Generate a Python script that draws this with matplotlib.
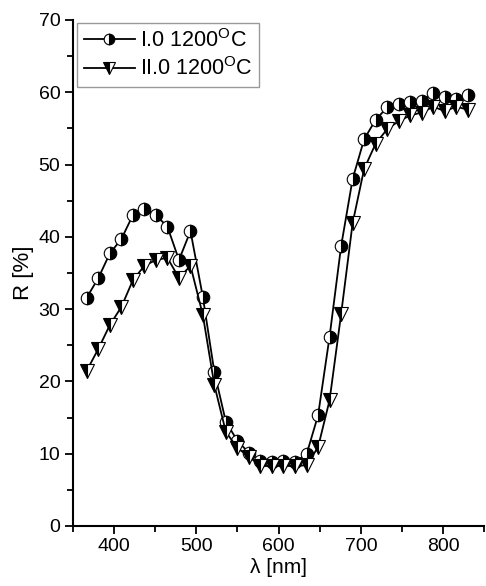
import matplotlib.pyplot as plt
from matplotlib.ticker import MultipleLocator

plt.rcParams['font.family'] = ['Liberation Sans', 'DejaVu Sans']
plt.rcParams['mathtext.fontset'] = 'custom'
plt.rcParams['mathtext.rm'] = 'Liberation Sans'

wavelength = [367, 381, 395, 409, 423, 437, 451, 465, 479, 493, 508, 522,
              536, 550, 564, 578, 592, 606, 620, 634, 648, 662, 676, 690,
              704, 718, 732, 746, 760, 774, 788, 802, 816, 830]
r_I = [31.6, 34.3, 37.7, 39.7, 43.0, 43.8, 43.0, 41.4, 36.8, 40.8, 31.7, 21.3,
       14.4, 11.8, 10.1, 9.0, 8.9, 9.0, 8.9, 9.9, 15.3, 26.2, 38.7, 48.0,
       53.5, 56.2, 57.9, 58.4, 58.7, 58.8, 59.9, 59.4, 59.1, 59.6]
r_II = [21.5, 24.5, 27.8, 30.3, 34.0, 36.0, 36.8, 37.1, 34.3, 36.0, 29.2, 19.5,
        13.0, 10.8, 9.6, 8.3, 8.3, 8.3, 8.3, 8.4, 10.9, 17.4, 29.3, 41.9,
        49.4, 52.9, 54.9, 56.0, 56.8, 57.2, 58.0, 57.4, 58.0, 57.6]
labels = ['I.0 1200$^{\\mathrm{O}}$C', 'II.0 1200$^{\\mathrm{O}}$C']

fig = plt.figure(figsize=(4.86, 5.86), dpi=100)
ax = fig.add_axes([0.1498, 0.1024, 0.8467, 0.8635])

ax.plot(wavelength, r_I, color='black', lw=1.3, marker='o', markersize=9,
        fillstyle='right', markerfacecolor='black', markerfacecoloralt='white',
        markeredgecolor='black', markeredgewidth=0.8, label=labels[0])
ax.plot(wavelength, r_II, color='black', lw=1.3, marker='v', markersize=9.5,
        fillstyle='left', markerfacecolor='black', markerfacecoloralt='white',
        markeredgecolor='black', markeredgewidth=0.8, label=labels[1])

ax.set_xlim(350, 850)
ax.set_ylim(0, 70)
ax.xaxis.set_major_locator(MultipleLocator(100))
ax.xaxis.set_minor_locator(MultipleLocator(50))
ax.yaxis.set_major_locator(MultipleLocator(10))
ax.yaxis.set_minor_locator(MultipleLocator(5))
ax.tick_params(which='major', direction='out', length=6, width=1.3,
               labelsize=14, pad=3)
ax.tick_params(which='minor', direction='out', length=4, width=1.3)

for s in ['top', 'right']:
    ax.spines[s].set_visible(False)
for s in ['left', 'bottom']:
    ax.spines[s].set_linewidth(1.5)

ax.set_xlabel('λ [nm]', fontsize=15, labelpad=2)
ax.set_ylabel('R [%]', fontsize=16, labelpad=3)

leg = ax.legend(loc='upper left', bbox_to_anchor=(0.008, 0.997), fontsize=15.5,
                borderaxespad=0.05, handlelength=2.4, handletextpad=0.2,
                borderpad=0.3, labelspacing=0.25, markerscale=0.85,
                fancybox=False, edgecolor='gray')
leg.get_frame().set_linewidth(1.0)

plt.savefig('out.png', dpi=100)
